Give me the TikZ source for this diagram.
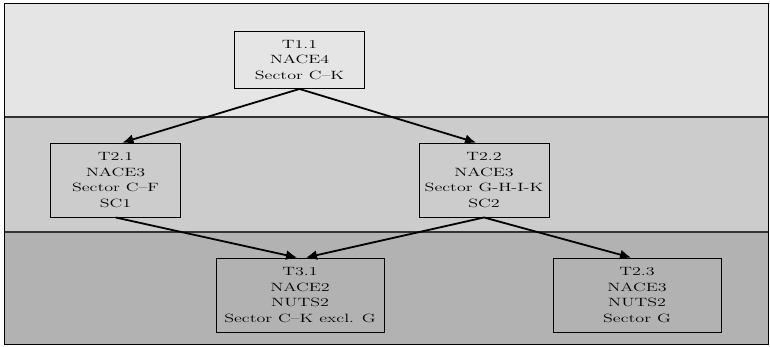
\documentclass[tikz,border=0pt]{standalone}
\usepackage{graphicx}
\usetikzlibrary{arrows.meta}
\newcommand\sx[1]{\scalebox{1.5}[1]{#1}}
\begin{document}
\begin{tikzpicture}[x=1pt,y=-1pt,
  box/.style={draw=black,line width=0.9pt,align=center,inner sep=0pt,
    font=\fontsize{12}{15.4}\selectfont},
  conn/.style={line width=1.8pt,-{Latex[length=11pt,width=10pt]}},
  band/.style={draw=black!80,line width=2.5pt}]
\useasboundingbox (0,0) rectangle (770,346);
\fill[gray!20] (4,3) rectangle (768,117);
\fill[gray!40] (4,117) rectangle (768,232);
\fill[gray!60] (4,232) rectangle (768,344);
\draw[band] (4,117) -- (768,117);
\draw[band] (4,232) -- (768,232);
\draw[black,line width=0.9pt] (4,3) rectangle (768,344);

\node[box,minimum width=130pt,minimum height=57pt] (t11) at (299.5,60) {\sx{T1.1}\\\sx{NACE4}\\\sx{Sector C--K}};
\node[box,minimum width=130pt,minimum height=74pt] (t21) at (115.5,180) {\sx{T2.1}\\\sx{NACE3}\\\sx{Sector C--F}\\\sx{SC1}};
\node[box,minimum width=130pt,minimum height=74pt] (t22) at (484,180) {\sx{T2.2}\\\sx{NACE3}\\\sx{Sector G-H-I-K}\\\sx{SC2}};
\node[box,minimum width=168pt,minimum height=74pt] (t31) at (300,295) {\sx{T3.1}\\\sx{NACE2}\\\sx{NUTS2}\\\sx{Sector C--K excl. G}};
\node[box,minimum width=168pt,minimum height=74pt] (t23) at (637,295) {\sx{T2.3}\\\sx{NACE3}\\\sx{NUTS2}\\\sx{Sector G}};

\draw[conn] (t11.south) -- ([xshift=7pt]t21.north);
\draw[conn] (t11.south) -- ([xshift=-8pt]t22.north);
\draw[conn] (t21.south) -- ([xshift=-3pt]t31.north);
\draw[conn] (t22.south) -- ([xshift=6pt]t31.north);
\draw[conn] (t22.south) -- ([xshift=-6pt]t23.north);
\end{tikzpicture}
\end{document}
